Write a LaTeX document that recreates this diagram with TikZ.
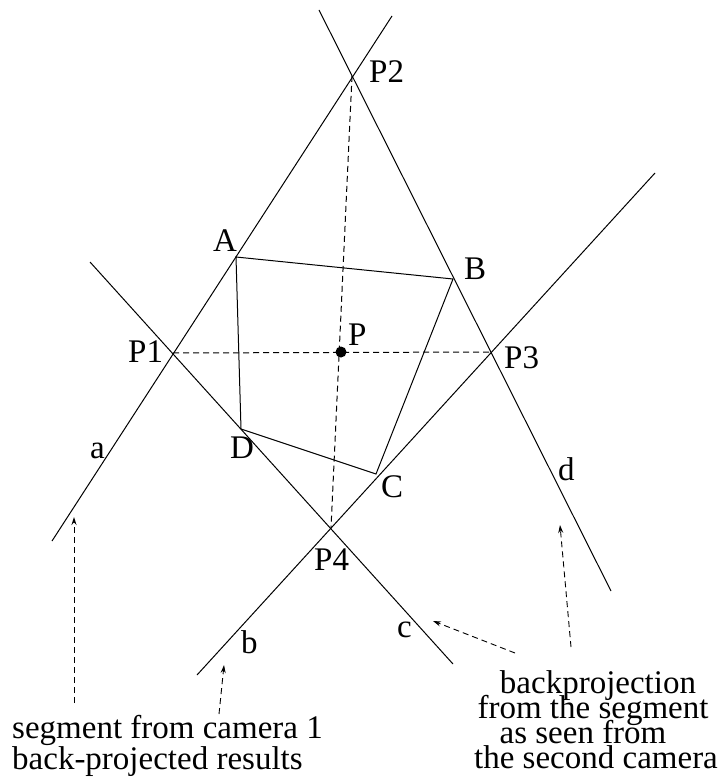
\documentclass[tikz,border=0pt]{standalone}
\usepackage{fontspec}
\setmainfont{Liberation Serif}
\usetikzlibrary{arrows.meta}
\begin{document}
\begin{tikzpicture}[x=1pt,y=-1pt,
  ln/.style={line width=1pt},
  dl/.style={line width=1pt, dash pattern=on 6pt off 4pt},
  arr/.style={line width=0.9pt, dash pattern=on 6pt off 4pt, -{Stealth[length=8pt,width=5pt]}},
  lbl/.style={inner sep=0pt, anchor=base west, font=\fontsize{33}{33}\selectfont},
  txt/.style={inner sep=0pt, anchor=base, text height=21pt, text depth=3pt, font=\fontsize{33}{33}\selectfont}]
\useasboundingbox (0,0) rectangle (721,778);
% line end points
\coordinate (a1) at (52,541);  \coordinate (a2) at (392,16);
\coordinate (d1) at (319,10);  \coordinate (d2) at (611,591);
\coordinate (b1) at (197,675); \coordinate (b2) at (655,173);
\coordinate (c1) at (90,262);  \coordinate (c2) at (453,664);
% intersection points
\coordinate (P1) at (173,353);
\coordinate (P2) at (352,76);
\coordinate (P3) at (491,352);
\coordinate (P4) at (331,528);
% quadrilateral corners
\coordinate (A) at (236,257);
\coordinate (B) at (453,279);
\coordinate (C) at (376,474);
\coordinate (D) at (241,429);
% lines
\draw[ln] (a1) -- (a2);
\draw[ln] (d1) -- (d2);
\draw[ln] (b1) -- (b2);
\draw[ln] (c1) -- (c2);
\draw[ln] (A) -- (B) -- (C) -- (D) -- cycle;
\draw[dl] (P1) -- (P3);
\draw[dl] (P2) -- (P4);
\node[circle, fill, inner sep=0pt, minimum size=11pt] (P) at (341,352) {};
% labels
\node[lbl] (lP2) at (369,83) {P2};
\node[lbl] (lA) at (213,251) {A};
\node[lbl] (lB) at (464,279) {B};
\node[lbl] (lP) at (348,345) {P};
\node[lbl] (lP1) at (128,362) {P1};
\node[lbl] (lP3) at (504,368) {P3};
\node[lbl] (lD) at (230,458) {D};
\node[lbl] (lC) at (381,497) {C};
\node[lbl] (lP4) at (314,570) {P4};
\node[lbl] (la) at (90,458) {a};
\node[lbl] (lb) at (241,653) {b};
\node[lbl] (lc) at (397,637) {c};
\node[lbl] (ld) at (558,480) {d};
% bottom texts
\node[lbl] (t1) at (12,738) {segment from camera 1};
\node[lbl] (t2) at (12,769) {back-projected results};
\node[txt] (r1) at (598,693) {backprojection};
\node[txt] (r2) at (593,718) {from the segment};
\node[txt] (r3) at (583,743) {as seen from};
\node[txt] (r4) at (596,768) {the second camera};
% arrow anchors
\coordinate (s1) at (74,703);  \coordinate (e1) at (74,517);
\coordinate (s2) at (219,714); \coordinate (e2) at (224,665);
\coordinate (s3) at (515,653); \coordinate (e3) at (433,621);
\coordinate (s4) at (571,647); \coordinate (e4) at (560,525);
\draw[arr] (s1) -- (e1);
\draw[arr] (s2) -- (e2);
\draw[arr] (s3) -- (e3);
\draw[arr] (s4) -- (e4);
\end{tikzpicture}
\end{document}
